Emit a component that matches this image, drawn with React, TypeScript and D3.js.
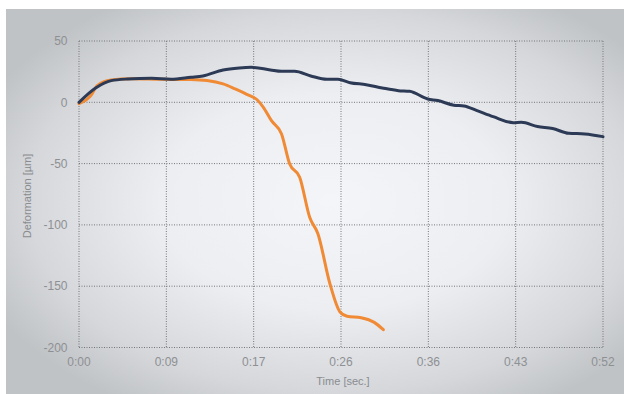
import React from "react";
import * as d3 from "d3";

const xTickLabels = ["0:00", "0:09", "0:17", "0:26", "0:36", "0:43", "0:52"];
const yTicks = [50, 0, -50, -100, -150, -200];

const navyT = [0, 1.65, 3.2, 4.8, 7.2, 9.1, 11.1, 12.3, 14.3, 15.9, 17.1, 19, 20.1, 21.4, 23, 24.6, 25.7, 26.9, 28.5, 30.1, 31.7, 32.8, 34.6, 35.6, 37.2, 38.2, 39.5, 41.1, 43.1, 43.9, 45.5, 47, 48.6, 50.2, 52];
const navyV = [0, 11.7, 17.7, 19, 19.6, 18.8, 20.4, 21.5, 26.4, 28, 28.5, 26.4, 25.3, 25.3, 21.5, 18.8, 18.8, 16, 14.4, 11.7, 9.5, 9, 2.7, 1.4, -2.4, -3, -6.8, -11.7, -16.6, -16.3, -19.8, -21.4, -25.3, -25.8, -28];

const orangeT = [0, 1.25, 1.8, 3.2, 5.2, 8, 11.1, 12.7, 14.3, 15.5, 16.7, 17.7, 18.3, 19.1, 20.1, 20.9, 21.9, 22.9, 23.7, 24.9, 25.9, 26.6, 28, 29.3, 30.2];
const orangeV = [-1.1, 6.3, 13.6, 18.2, 19.3, 18.8, 18.5, 17.7, 15, 10.9, 6.3, 1.9, -4.1, -15, -25.8, -50.2, -61.1, -94, -107, -148, -171, -174.5, -175.7, -179.5, -185.5];

const W = 624;
const H = 394;
const left = 79;
const right = 603;
const top = 41;
const bottom = 347.5;

export default function App() {
  const x = d3.scaleLinear().domain([0, 52]).range([left, right]);
  const y = d3.scaleLinear().domain([-200, 50]).range([bottom, top]);
  const xTicks = xTickLabels.map((_, i) => (i * 52) / 6);

  const line = d3
    .line<[number, number]>()
    .x((d) => x(d[0]))
    .y((d) => y(d[1]))
    .curve(d3.curveMonotoneX);

  const navy = navyT.map((t, i) => [t, navyV[i]] as [number, number]);
  const orange = orangeT.map((t, i) => [t, orangeV[i]] as [number, number]);

  const font = "'Liberation Sans', Arial, Helvetica, sans-serif";
  const gridColor = "#74777a";

  return (
    <>
      <style>{`body{margin:0;}`}</style>
      <svg width={W} height={H} style={{ display: "block" }}>
        <defs>
          <radialGradient id="bg" cx="0.53" cy="0.5" r="0.62" fx="0.53" fy="0.5">
            <stop offset="0" stopColor="#f4f5f8" />
            <stop offset="0.45" stopColor="#edeef2" />
            <stop offset="0.8" stopColor="#d5d7db" />
            <stop offset="1" stopColor="#c0c3c6" />
          </radialGradient>
        </defs>
        <rect x={0} y={0} width={W} height={H} fill="#ffffff" />
        <rect x={6} y={9} width={W - 6} height={H - 9} fill="url(#bg)" />

        {/* grid */}
        <g stroke={gridColor} strokeWidth={1} strokeDasharray="1,1.5" fill="none">
          {xTicks.map((t, i) => (
            <line key={"gx" + i} x1={x(t)} x2={x(t)} y1={top} y2={bottom} />
          ))}
          {yTicks.map((v, i) => (
            <line key={"gy" + i} x1={left} x2={right} y1={y(v)} y2={y(v)} />
          ))}
        </g>

        {/* tick labels */}
        <g fontFamily={font} fontSize={12} fill="#8e9093">
          {yTicks.map((v, i) => (
            <text key={"ty" + i} x={67.5} y={y(v)} dy="0.35em" textAnchor="end">
              {v}
            </text>
          ))}
          {xTicks.map((t, i) => (
            <text key={"tx" + i} x={x(t)} y={366} textAnchor="middle">
              {xTickLabels[i]}
            </text>
          ))}
        </g>

        <text
          x={343}
          y={385}
          textAnchor="middle"
          fontFamily={font}
          fontSize={11}
          fill="#8a8c8f"
        >
          Time [sec.]
        </text>
        <text
          transform="translate(31,196) rotate(-90)"
          textAnchor="middle"
          fontFamily={font}
          fontSize={11}
          fill="#8a8c8f"
        >
          Deformation [µm]
        </text>

        {/* series */}
        <path d={line(orange) || ""} fill="none" stroke="#f08a35" strokeWidth={3} strokeLinejoin="round" strokeLinecap="round" />
        <path d={line(navy) || ""} fill="none" stroke="#2c3a56" strokeWidth={3} strokeLinejoin="round" strokeLinecap="round" />
      </svg>
    </>
  );
}
